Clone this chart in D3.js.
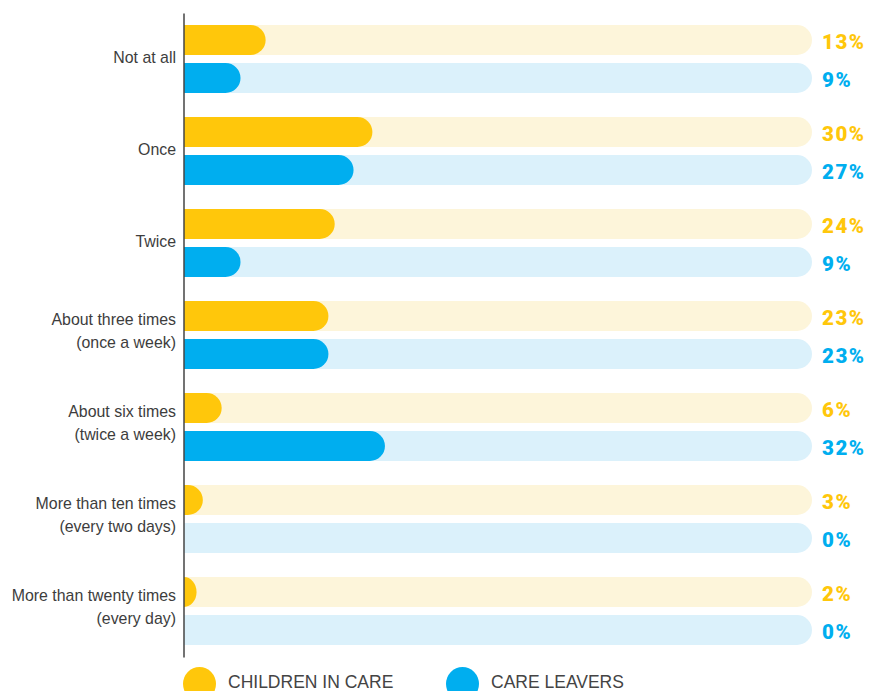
<!DOCTYPE html>
<html>
<head>
<meta charset="utf-8">
<script src="https://cdn.jsdelivr.net/npm/d3@7"></script>
<style>
    html, body { margin: 0; padding: 0; background: #fff; }
    svg { display: block; }
    .cat-label { font-family: "Liberation Sans", Arial, sans-serif; font-size: 15.9px; fill: #3d3d3d; }
    .pct-label { font-family: Roboto, "DejaVu Sans", sans-serif; font-weight: 900; font-size: 20.5px; letter-spacing: 1.5px; }
    .legend-label { font-family: "Liberation Sans", Arial, sans-serif; font-size: 17.5px; fill: #444; }
</style>
</head>
<body>
<div id="chart"></div>
<script>
(function () {
    "use strict";

    var categories = ["Not at all", "Once", "Twice", "About three times", "About six times",
        "More than ten times", "More than twenty times"];
    var subLabels = ["", "", "", "(once a week)", "(twice a week)", "(every two days)", "(every day)"];
    var seriesNames = ["CHILDREN IN CARE", "CARE LEAVERS"];
    var childrenInCare = [13, 30, 24, 23, 6, 3, 2];
    var careLeavers = [9, 27, 9, 23, 32, 0, 0];
    var seriesColors = ["#ffc70b", "#00aeef"];
    var trackColors = ["#fdf5da", "#dbf1fb"];

    var config = {
        width: 872,
        height: 691,
        axisX: 183.5,
        barStart: 184,
        trackEnd: 812
    };

    var svg = d3.select("#chart").append("svg")
        .attr("width", config.width)
        .attr("height", config.height);

    var y = d3.scaleBand()
        .domain(categories)
        .range([13, 657])
        .padding(0);

    var inner = d3.scaleBand()
        .domain([0, 1])
        .range([12, 80])
        .paddingInner(8 / 38)
        .paddingOuter(0);

    var x = d3.scaleLinear()
        .domain([0, 100])
        .range([config.barStart, config.trackEnd]);

    var data = [];
    categories.forEach(function (c, i) {
        data.push({ cat: c, s: 0, value: childrenInCare[i] });
        data.push({ cat: c, s: 1, value: careLeavers[i] });
    });

    // bar with a square left end and a rounded right end
    function roundedBar(x0, x1, top, h) {
        var w = x1 - x0;
        if (w <= 0) return "";
        var r = h / 2;
        var rx = Math.min(r, w);
        return "M" + x0 + "," + top +
            "H" + (x1 - rx) +
            "A" + rx + "," + r + " 0 0 1 " + (x1 - rx) + "," + (top + h) +
            "H" + x0 + "Z";
    }

    var h = inner.bandwidth();

    svg.append("g").selectAll("path.track")
        .data(data)
        .enter().append("path")
        .attr("class", "track")
        .attr("fill", function (d) { return trackColors[d.s]; })
        .attr("d", function (d) {
            return roundedBar(x(0), x(100), y(d.cat) + inner(d.s), h);
        });

    svg.append("g").selectAll("path.bar")
        .data(data)
        .enter().append("path")
        .attr("class", "bar")
        .attr("fill", function (d) { return seriesColors[d.s]; })
        .attr("d", function (d) {
            return roundedBar(x(0), x(d.value), y(d.cat) + inner(d.s), h);
        });

    svg.append("g").selectAll("text.pct-label")
        .data(data)
        .enter().append("text")
        .attr("class", "pct-label")
        .attr("x", 822)
        .attr("y", function (d) { return y(d.cat) + inner(d.s) + h / 2; })
        .attr("dy", "0.42em")
        .attr("fill", function (d) { return seriesColors[d.s]; })
        .text(function (d) { return d.value + "%"; });

    // vertical axis line
    var yAxis = d3.axisLeft(y).tickSize(0).tickSizeOuter(0).tickFormat("");
    var axisG = svg.append("g")
        .attr("transform", "translate(" + config.axisX + ",0)")
        .call(yAxis);
    axisG.select(".domain").attr("stroke", "#444").attr("stroke-width", 1.5);

    var labels = svg.append("g").selectAll("text.cat-label")
        .data(categories)
        .enter().append("text")
        .attr("class", "cat-label")
        .attr("text-anchor", "end")
        .attr("x", 176);

    labels.each(function (c, i) {
        var t = d3.select(this);
        var mid = y(c) + y.bandwidth() / 2 - 2;
        if (subLabels[i]) {
            t.append("tspan").attr("x", 176).attr("y", mid - 14).attr("dy", "0.35em").text(c);
            t.append("tspan").attr("x", 176).attr("y", mid + 9).attr("dy", "0.35em").text(subLabels[i]);
        } else {
            t.attr("y", mid).attr("dy", "0.35em").text(c);
        }
    });

    var legendX = [199.5, 462.5];
    var legend = svg.append("g").selectAll("g.legend")
        .data(seriesNames)
        .enter().append("g")
        .attr("class", "legend")
        .attr("transform", function (d, i) { return "translate(" + legendX[i] + ",684)"; });

    legend.append("ellipse")
        .attr("rx", 16.5)
        .attr("ry", 17)
        .attr("fill", function (d, i) { return seriesColors[i]; });

    legend.append("text")
        .attr("class", "legend-label")
        .attr("x", 28.5)
        .attr("y", 4)
        .text(function (d) { return d; });
})();
</script>
</body>
</html>
